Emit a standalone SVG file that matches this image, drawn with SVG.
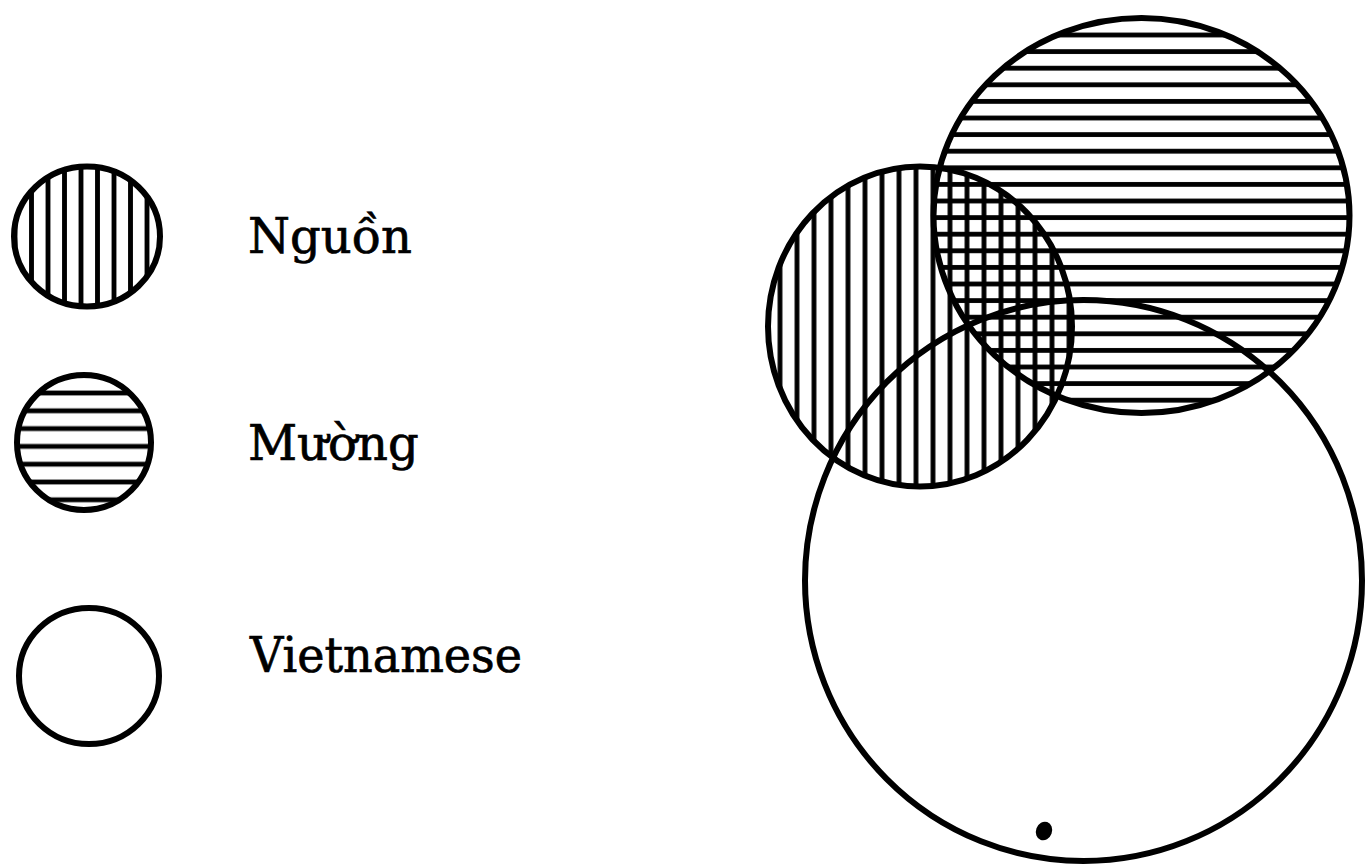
<svg xmlns="http://www.w3.org/2000/svg" width="1366" height="864" viewBox="0 0 1366 864">
  <style>
    .outline { fill: none; stroke: #000; stroke-width: 6; }
    .label { font-family: "DejaVu Serif", "Liberation Serif", serif; font-size: 48px; fill: #000; stroke: #000; stroke-width: 0.7; }
    .hatch { stroke: #000; stroke-width: 4.8; }
  </style>
  <defs>
    <pattern id="vLegend" patternUnits="userSpaceOnUse" x="23.25" y="0" width="16.5" height="20">
      <line class="hatch" x1="8.25" y1="0" x2="8.25" y2="20"/>
    </pattern>
    <pattern id="hLegend" patternUnits="userSpaceOnUse" x="0" y="384.1" width="20" height="17.8">
      <line class="hatch" x1="0" y1="8.9" x2="20" y2="8.9"/>
    </pattern>
    <pattern id="vBig" patternUnits="userSpaceOnUse" x="771.5" y="0" width="17" height="20">
      <line class="hatch" x1="8.5" y1="0" x2="8.5" y2="20"/>
    </pattern>
    <pattern id="hBig" patternUnits="userSpaceOnUse" x="0" y="26.7" width="20" height="16.6">
      <line class="hatch" x1="0" y1="8.3" x2="20" y2="8.3"/>
    </pattern>
  </defs>
  <rect width="1366" height="864" fill="#fff"/>

  <!-- Legend -->
  <g id="legend-nguon">
    <ellipse cx="87" cy="236.5" rx="73" ry="70" fill="url(#vLegend)"/>
    <ellipse class="outline" cx="87" cy="236.5" rx="73" ry="70"/>
    <text class="label" x="248" y="253">Nguồn</text>
  </g>
  <g id="legend-muong">
    <ellipse cx="84" cy="442.5" rx="67" ry="67.5" fill="url(#hLegend)"/>
    <ellipse class="outline" cx="84" cy="442.5" rx="67" ry="67.5"/>
    <text class="label" x="248" y="460">Mường</text>
  </g>
  <g id="legend-vietnamese">
    <ellipse class="outline" cx="89" cy="676" rx="70" ry="68"/>
    <text class="label" x="250" y="672" textLength="272" lengthAdjust="spacingAndGlyphs">Vietnamese</text>
  </g>

  <!-- Venn diagram -->
  <g id="venn-nguon">
    <ellipse cx="920" cy="326.5" rx="152" ry="160" fill="url(#vBig)"/>
  </g>
  <g id="venn-muong">
    <ellipse cx="1141.5" cy="215.5" rx="208" ry="197.5" fill="url(#hBig)"/>
  </g>
  <g id="venn-vietnamese">
    <ellipse class="outline" cx="1083.5" cy="580.5" rx="278.5" ry="280.5"/>
    <ellipse cx="1044" cy="831" rx="8" ry="9.5" transform="rotate(20 1044 831)" fill="#000"/>
  </g>
  <g id="venn-outlines">
    <ellipse class="outline" cx="920" cy="326.5" rx="152" ry="160"/>
    <ellipse class="outline" cx="1141.5" cy="215.5" rx="208" ry="197.5"/>
  </g>
</svg>
